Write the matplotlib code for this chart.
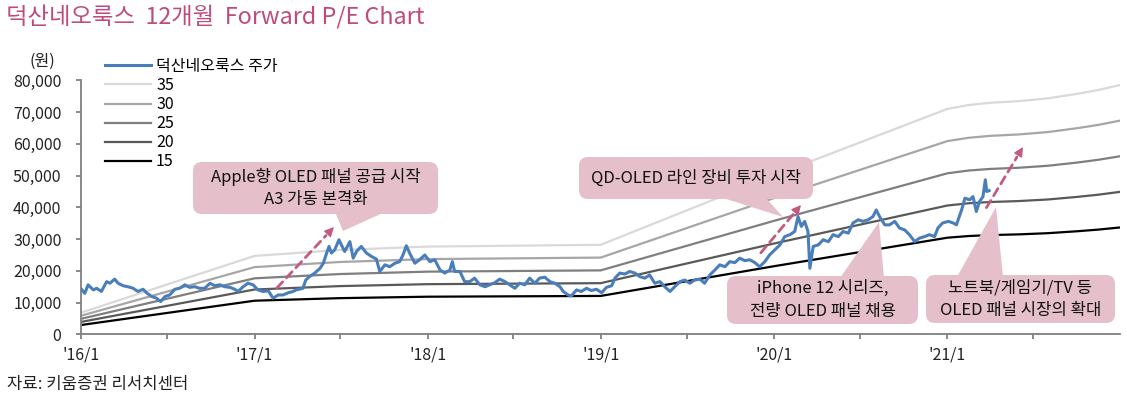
import pandas as pd
import matplotlib
matplotlib.use("Agg")
import matplotlib.pyplot as plt
from matplotlib.patches import FancyBboxPatch, Polygon, FancyArrowPatch
from matplotlib.transforms import Affine2D

plt.rcParams['font.family'] = ['Noto Sans CJK KR', 'DejaVu Sans']

# --- data: 덕산네오룩스 stock price (원) ---
price_dates = [
    "2016-01-02", "2016-01-09", "2016-01-16", "2016-01-27", "2016-02-03", "2016-02-13", "2016-02-24",
    "2016-03-02", "2016-03-12", "2016-03-19", "2016-03-30", "2016-04-09", "2016-04-20", "2016-04-30",
    "2016-05-11", "2016-05-18", "2016-05-29", "2016-06-08", "2016-06-17", "2016-06-26", "2016-07-06",
    "2016-07-17", "2016-07-27", "2016-08-07", "2016-08-17", "2016-08-28", "2016-09-07", "2016-09-18",
    "2016-09-29", "2016-10-09", "2016-10-20", "2016-10-30", "2016-11-10", "2016-11-20", "2016-11-27",
    "2016-12-08", "2016-12-18", "2016-12-29", "2017-01-08", "2017-01-19", "2017-01-30", "2017-02-09",
    "2017-02-20", "2017-03-02", "2017-03-13", "2017-03-23", "2017-03-30", "2017-04-13", "2017-04-19",
    "2017-04-27", "2017-05-08", "2017-05-19", "2017-05-26", "2017-06-02", "2017-06-07", "2017-06-12",
    "2017-06-19", "2017-06-28", "2017-07-03", "2017-07-10", "2017-07-21", "2017-07-28", "2017-08-04",
    "2017-08-14", "2017-08-25", "2017-09-05", "2017-09-15", "2017-09-22", "2017-10-03", "2017-10-13",
    "2017-10-24", "2017-11-03", "2017-11-10", "2017-11-17", "2017-11-24", "2017-12-05", "2017-12-15",
    "2017-12-26", "2018-01-06", "2018-01-16", "2018-01-27", "2018-02-06", "2018-02-17", "2018-02-22",
    "2018-02-27", "2018-03-10", "2018-03-20", "2018-03-31", "2018-04-10", "2018-04-21", "2018-05-02",
    "2018-05-12", "2018-05-23", "2018-06-02", "2018-06-13", "2018-06-23", "2018-07-04", "2018-07-14",
    "2018-07-25", "2018-08-04", "2018-08-15", "2018-08-25", "2018-09-05", "2018-09-16", "2018-09-26",
    "2018-10-07", "2018-10-14", "2018-10-24", "2018-10-31", "2018-11-11", "2018-11-21", "2018-12-02",
    "2018-12-12", "2018-12-23", "2019-01-03", "2019-01-13", "2019-01-24", "2019-01-31", "2019-02-10",
    "2019-02-21", "2019-03-03", "2019-03-14", "2019-03-24", "2019-04-04", "2019-04-14", "2019-04-25",
    "2019-05-06", "2019-05-16", "2019-05-27", "2019-06-06", "2019-06-17", "2019-06-27", "2019-07-08",
    "2019-07-18", "2019-07-29", "2019-08-08", "2019-08-19", "2019-08-30", "2019-09-09", "2019-09-20",
    "2019-09-30", "2019-10-11", "2019-10-21", "2019-11-01", "2019-11-11", "2019-11-22", "2019-12-02",
    "2019-12-13", "2019-12-23", "2020-01-03", "2020-01-14", "2020-01-24", "2020-02-04", "2020-02-14",
    "2020-02-21", "2020-02-28", "2020-03-06", "2020-03-13", "2020-03-17", "2020-03-24", "2020-04-04",
    "2020-04-14", "2020-04-25", "2020-05-05", "2020-05-16", "2020-05-26", "2020-06-06", "2020-06-16",
    "2020-06-27", "2020-07-07", "2020-07-18", "2020-07-28", "2020-08-04", "2020-08-11", "2020-08-22",
    "2020-09-01", "2020-09-12", "2020-09-22", "2020-10-03", "2020-10-13", "2020-10-24", "2020-11-03",
    "2020-11-14", "2020-11-24", "2020-12-05", "2020-12-12", "2020-12-22", "2021-01-03", "2021-01-13",
    "2021-01-20", "2021-01-31", "2021-02-07", "2021-02-17", "2021-02-24", "2021-03-03", "2021-03-10",
    "2021-03-17", "2021-03-22", "2021-03-25", "2021-03-30",
]
price = [
    14200, 12900, 15600, 14000, 14500, 13500, 16600,
    16100, 17400, 16100, 15300, 15000, 14500, 13500,
    14200, 13100, 11900, 11400, 10300, 11900, 12400,
    14200, 14500, 15600, 14800, 15000, 14500, 14500,
    16100, 15300, 15600, 15000, 14800, 14200, 13500,
    15000, 16100, 15600, 14000, 13500, 13700, 11400,
    12400, 12400, 13100, 13500, 14000, 14500, 17100,
    18200, 19300, 20800, 22400, 25600, 27700, 25600,
    26600, 29800, 28200, 26100, 29200, 24000, 26100,
    27700, 25600, 24500, 23700, 19800, 21900, 21300,
    22400, 22900, 25000, 27900, 25600, 22400, 23500,
    25000, 22900, 23500, 20300, 19300, 20300, 22900,
    19800, 19800, 16600, 16600, 17700, 15600, 15000,
    15600, 16300, 17400, 16600, 15600, 14500, 16100,
    15600, 17700, 16100, 17700, 18000, 16600, 16100,
    15000, 13500, 12400, 12100, 14000, 13500, 14500,
    13800, 14200, 13100, 14800, 15300, 17700, 19300,
    19000, 19800, 19300, 18200, 17700, 18700, 16100,
    16600, 15000, 13500, 15000, 16600, 17100, 16100,
    17100, 17400, 16100, 18700, 20300, 21900, 21300,
    22900, 22600, 24000, 23200, 23500, 22600, 21300,
    22900, 25000, 26600, 28200, 30800, 31400, 32400,
    37100, 34000, 35600, 32400, 20800, 27700, 28200,
    29800, 29200, 31400, 30800, 32400, 31900, 35100,
    36100, 35600, 36100, 37100, 39200, 37100, 34500,
    34500, 35600, 33500, 32900, 31400, 29200, 30300,
    30800, 31400, 30800, 33500, 35100, 35600, 35100,
    34500, 39200, 42900, 42400, 43400, 38700, 41900,
    43400, 48700, 45000, 45300,
]

# --- data: 12M forward EPS (원) behind the P/E bands ---
eps_dates = ["2016-01-01", "2017-01-01", "2017-07-01", "2018-01-01", "2018-07-01",
             "2019-01-01", "2020-01-01", "2021-01-01", "2021-02-15", "2021-04-01",
             "2021-06-01", "2021-08-01", "2021-10-01", "2021-11-15", "2021-12-31"]
eps = [195, 706, 760, 790, 798, 806, 1430, 2030, 2065, 2085, 2100, 2125, 2165, 2200, 2245]

multiples = [35, 30, 25, 20, 15]
band_colors = ['#D9D9D9', '#A6A6A6', '#7F7F7F', '#595959', '#000000']

year_labels = ["'16/1", "'17/1", "'18/1", "'19/1", "'20/1", "'21/1"]

price_dates = pd.to_datetime(price_dates)
eps_dates = pd.to_datetime(eps_dates)

W, H = 1127, 398
fig = plt.figure(figsize=(W / 100, H / 100), dpi=100)
ax = fig.add_axes([81 / W, 1 - 334.3 / H, (1120 - 81) / W, (334.3 - 80.5) / H])
# pixel coordinates (origin top-left) for the annotation layer
px = Affine2D().scale(1 / W, -1 / H).translate(0, 1) + fig.transFigure

ax.plot(price_dates, price, color='#4A7EBB', lw=2.2, label='덕산네오룩스 주가', zorder=3)
for m, c in zip(multiples, band_colors):
    ax.plot(eps_dates, [e * m for e in eps], color=c, lw=1.6, label=str(m), zorder=2)

ax.set_xlim(pd.Timestamp("2016-01-01"), pd.Timestamp("2021-12-31"))
ax.set_ylim(0, 80000)
ax.set_yticks(range(0, 80001, 10000))
ax.set_yticklabels([f"{v:,}" for v in range(0, 80001, 10000)])
ax.set_xticks(pd.to_datetime([f"{y}-01-01" for y in range(2016, 2022)]))
ax.set_xticklabels(year_labels)
ax.set_xticks(pd.to_datetime([f"{y}-07-01" for y in range(2016, 2022)]), minor=True)

for s in ['top', 'right']:
    ax.spines[s].set_visible(False)
for s in ['left', 'bottom']:
    ax.spines[s].set_color('#7F7F7F')
    ax.spines[s].set_linewidth(1.3)
ax.tick_params(axis='y', length=3.6, width=1.3, color='#7F7F7F', pad=10.5,
               labelsize=11.5, labelcolor='#222222')
ax.tick_params(axis='x', which='both', length=3.6, width=1.3, color='#7F7F7F', pad=5,
               labelsize=11.5, labelcolor='#222222')

leg = ax.legend(loc='upper left', bbox_to_anchor=(105 / W, 1 - 58 / H),
                bbox_transform=fig.transFigure, frameon=False, fontsize=11.5,
                handlelength=2.9, handletextpad=0.3, labelspacing=0.13,
                borderpad=0, borderaxespad=0)

fig.text(6 / W, 1 - 17 / H, '덕산네오룩스  12개월  Forward P/E Chart', fontsize=16.8,
         color='#BE4B7B', va='center', ha='left')
fig.text(42 / W, 1 - 61 / H, '(원)', fontsize=11.5, color='#222222', va='center', ha='center')
fig.text(7 / W, 1 - 384.5 / H, '자료: 키움증권 리서치센터', fontsize=12, color='#222222',
         va='center', ha='left')

box_color = '#E5BFCA'
arrow_color = '#C25B80'


def callout(x0, y0, x1, y1, tail, text):
    fig.add_artist(Polygon(tail, closed=True, transform=px, facecolor=box_color,
                           edgecolor='none', zorder=4))
    fig.add_artist(FancyBboxPatch((x0, y0), x1 - x0, y1 - y0,
                                  boxstyle='round,pad=0,rounding_size=9', transform=px,
                                  facecolor=box_color, edgecolor='none', zorder=4))
    fig.text((x0 + x1) / 2, (y0 + y1) / 2, text, transform=px, ha='center', va='center',
             fontsize=12, color='#111111', linespacing=1.45, zorder=5)


def dashed_arrow(start, tip):
    dx, dy = tip[0] - start[0], tip[1] - start[1]
    n = (dx ** 2 + dy ** 2) ** 0.5
    back = (tip[0] - dx / n * 9, tip[1] - dy / n * 9)
    fig.add_artist(FancyArrowPatch(start, back, transform=px, arrowstyle='-',
                                   linestyle=(0, (3, 2)), lw=2, color=arrow_color, zorder=6))
    fig.add_artist(FancyArrowPatch(back, tip, transform=px, arrowstyle='-|>', mutation_scale=14,
                                   lw=1, color=arrow_color, zorder=6,
                                   shrinkA=0, shrinkB=0))


callout(193, 162, 438, 214, [(335, 212), (343, 231), (385, 212)],
        'Apple향 OLED 패널 공급 시작\nA3 가동 본격화')
callout(579, 157, 813, 199, [(720, 197), (783, 217), (765, 197)],
        'QD-OLED 라인 장비 투자 시작')
callout(727, 276, 918, 324, [(840, 278), (879, 222), (884, 278)],
        'iPhone 12 시리즈,\n전량 OLED 패널 채용')
callout(926, 275, 1115, 323, [(957, 277), (996, 207), (1003, 277)],
        '노트북/게임기/TV 등\nOLED 패널 시장의 확대')

dashed_arrow((275, 290), (334, 227))
dashed_arrow((759, 255), (801, 205))
dashed_arrow((985, 210), (1023, 147))

fig.savefig('out.png', dpi=100)
